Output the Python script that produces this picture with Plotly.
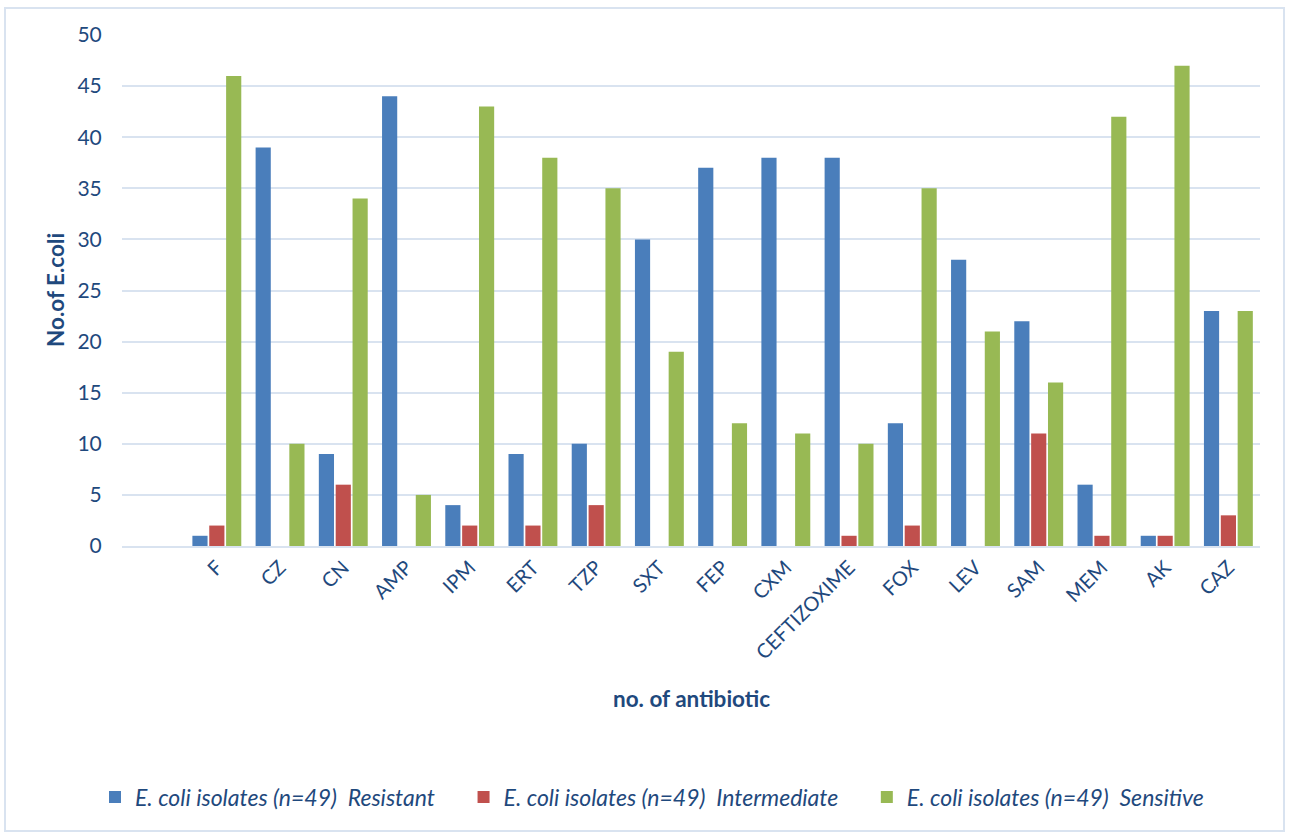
import plotly.graph_objects as go

categories = [" ", "F", "CZ", "CN", "AMP", "IPM", "ERT", "TZP", "SXT", "FEP", "CXM",
              "CEFTIZOXIME", "FOX", "LEV", "SAM", "MEM", "AK", "CAZ"]
resistant = [None, 1, 39, 9, 44, 4, 9, 10, 30, 37, 38, 38, 12, 28, 22, 6, 1, 23]
intermediate = [None, 2, 0, 6, 0, 2, 2, 4, 0, 0, 0, 1, 2, 0, 11, 1, 1, 3]
sensitive = [None, 46, 10, 34, 5, 43, 38, 35, 19, 12, 11, 10, 35, 21, 16, 42, 47, 23]

series_names = ["E. coli isolates (n=49)  Resistant",
                "E. coli isolates (n=49)  Intermediate",
                "E. coli isolates (n=49)  Sensitive"]
colors = ["#4A7EBB", "#C0504D", "#98B954"]

TXT = "#1F497D"
FONT = "Lato, 'Open Sans', sans-serif"
PAD = "&nbsp;" * 4

fig = go.Figure()
for name, vals, col in zip(series_names, [resistant, intermediate, sensitive], colors):
    fig.add_trace(go.Bar(x=categories, y=vals, name="<i>" + name + "</i>" + PAD,
                         marker=dict(color=col, line=dict(width=0))))

W, H = 1290, 834
L, R, T, B = 122, 30, 35, 288
pw = W - L - R
ph = H - T - B

def px_x(p):
    return (p - L) / pw

def px_y(p):
    return (H - B - p) / ph

fig.update_layout(
    width=W, height=H,
    margin=dict(l=L, r=R, t=T, b=B),
    paper_bgcolor="white", plot_bgcolor="white",
    barmode="group", bargap=0.2, bargroupgap=0.1,
    font=dict(family=FONT, color=TXT, size=18),
    showlegend=True,
    legend=dict(orientation="h", x=px_x(95), y=px_y(797), xanchor="left", yanchor="middle",
                font=dict(size=23, color=TXT), itemwidth=30, traceorder="normal",
                bgcolor="rgba(0,0,0,0)"),
    xaxis=dict(type="category", tickangle=-45, tickfont=dict(size=20, color=TXT),
               showgrid=False, showline=True, linecolor="#D9E3F0", linewidth=2,
               ticks="", automargin=False),
    yaxis=dict(range=[0, 50], dtick=5, tickfont=dict(size=21, color=TXT),
               showgrid=True, gridcolor="#D9E3F0", gridwidth=2, zeroline=False,
               showline=False, ticks="outside", ticklen=15, tickcolor="white",
               automargin=False),
    annotations=[
        dict(text="<b>no. of antibiotic</b>", x=px_x(691), y=px_y(698), xref="paper", yref="paper",
             showarrow=False, font=dict(size=22.5, color=TXT), xanchor="center", yanchor="middle"),
        dict(text="<b>No.of E.coli</b>", x=px_x(55), y=px_y(290), xref="paper", yref="paper",
             showarrow=False, font=dict(size=22.5, color=TXT), textangle=-90,
             xanchor="center", yanchor="middle"),
    ],
    shapes=[
        dict(type="rect", xref="paper", yref="paper",
             x0=px_x(5), x1=px_x(1284), y0=px_y(831), y1=px_y(8),
             line=dict(color="#D9E3F0", width=2), fillcolor="rgba(0,0,0,0)", layer="below"),
    ],
)

fig.write_html("out.html")
